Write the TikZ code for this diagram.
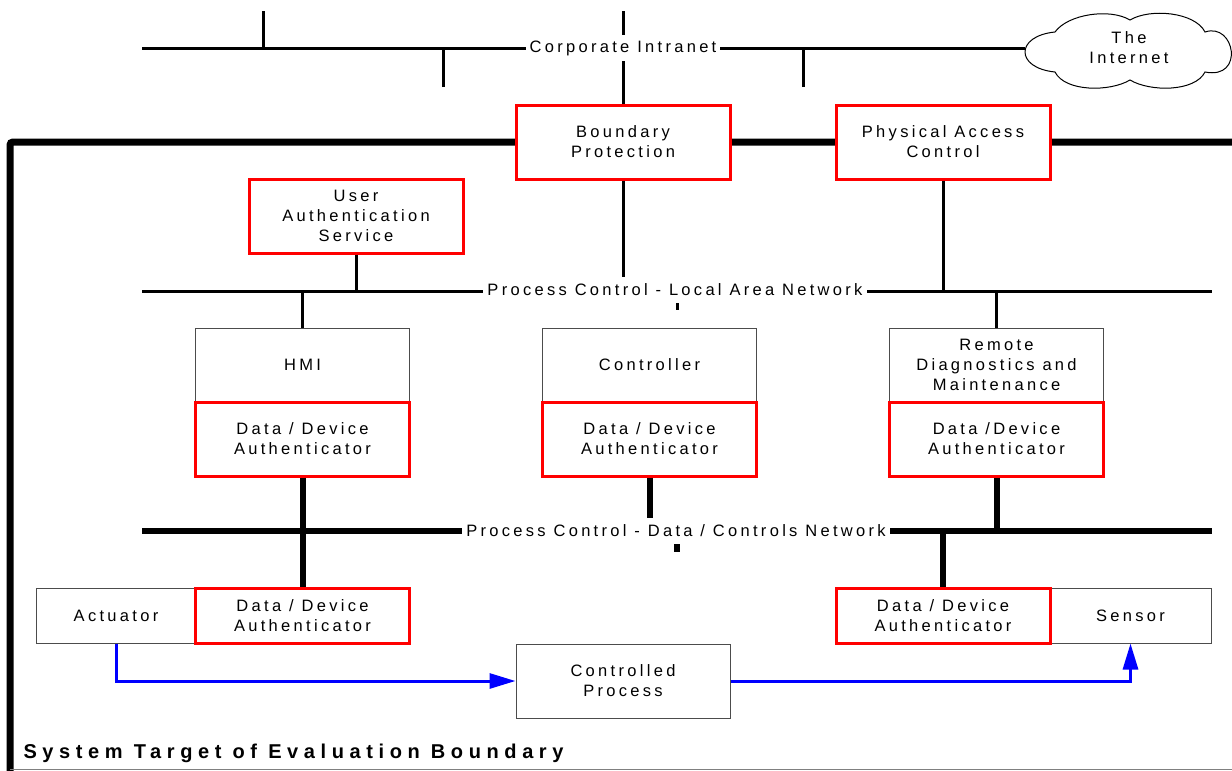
\documentclass[tikz,border=0pt]{standalone}
\usepackage{fontspec}
\setmainfont{Liberation Sans}[LetterSpace=20]
\newfontfamily\toefont{Liberation Sans}[LetterSpace=28]
\usetikzlibrary{arrows.meta}
\tikzstyle{box}=[draw=gray!60!black,line width=1,fill=white,minimum width=214,minimum height=74,inner sep=0mm,align=center,font=\fontsize{16.5}{20}\selectfont]
\tikzstyle{authbox}=[box,draw=red,line width=3]
\tikzstyle{net}=[line width=3]
\tikzstyle{thicknet}=[line width=6]
\tikzstyle{netlabel}=[fill=white,inner sep=4,minimum height=26,font=\fontsize{16.5}{20}\selectfont]
\tikzstyle{flow}=[draw=blue,line width=3,-{Triangle[length=26pt,width=15pt]}]
\begin{document}
\begin{tikzpicture}[x=1pt,y=-1pt]
      \useasboundingbox (0,0) rectangle (1232,771);
      % boundary of the target of evaluation
      \draw[line width=7,rounded corners=3] (1240,142) -- (10,142) -- (10,780);
      \draw[gray,line width=1] (10,769) -- (1240,769);
      \node[anchor=west,font=\toefont\bfseries\fontsize{20}{22}\selectfont] (toe) at (20,753) {System Target of Evaluation Boundary};
      % the internet
      \draw[line width=1,fill=white] (1055,32) .. controls (1068,14) and (1110,8) .. (1130,20)
        .. controls (1150,8) and (1195,12) .. (1205,32)
        .. controls (1235,22) and (1245,80) .. (1205,72)
        .. controls (1195,92) and (1150,92) .. (1130,80)
        .. controls (1110,92) and (1065,92) .. (1055,72)
        .. controls (1015,68) and (1015,36) .. (1055,32) -- cycle;
      \node[align=center,inner sep=0mm,font=\fontsize{16.5}{20}\selectfont] (inet) at (1129,48) {The\\Internet};
      % corporate intranet
      \coordinate (ci1) at (142,48);
      \coordinate (inetW) at (1025,48);
      \coordinate (t1) at (263,11);
      \coordinate (t2) at (443,87);
      \coordinate (t3) at (623,11);
      \coordinate (t4) at (803,87);
      \draw[net] (ci1) -- (inetW);
      \draw[net] (t1) -- (t1 |- ci1);
      \draw[net] (t2) -- (t2 |- ci1);
      \draw[net] (t4) -- (t4 |- ci1);
      % networks
      \coordinate (lanL) at (142,291);
      \coordinate (lanR) at (1212,291);
      \coordinate (lanstub) at (677,310);
      \coordinate (dcnL) at (142,531);
      \coordinate (dcnR) at (1212,531);
      \coordinate (dcnstub) at (677,552);
      \draw[net] (lanL) -- (lanR);
      \draw[thicknet] (dcnL) -- (dcnR);
      % boxes
      \node[authbox] (bp) at (623,142) {Boundary\\Protection};
      \node[authbox] (pac) at (943,142) {Physical Access\\Control};
      \node[authbox] (uas) at (356,216) {User\\Authentication\\Service};
      \node[box] (hmi) at (302.5,365) {HMI};
      \node[box] (ctl) at (649.5,365) {Controller};
      \node[box] (rdm) at (996.5,365) {Remote\\Diagnostics and\\Maintenance};
      \node[authbox] (hmiauth) at (302.5,439) {Data / Device\\Authenticator};
      \node[authbox] (ctlauth) at (649.5,439) {Data / Device\\Authenticator};
      \node[authbox] (rdmauth) at (996.5,439) {Data /Device\\Authenticator};
      \node[box,minimum width=160,minimum height=55] (act) at (116,615.5) {Actuator};
      \node[box,minimum width=161,minimum height=55] (sen) at (1130.5,615.5) {Sensor};
      \node[authbox,minimum height=55] (actauth) at (302.5,615.5) {Data / Device\\Authenticator};
      \node[authbox,minimum height=55] (senauth) at (943,615.5) {Data / Device\\Authenticator};
      \node[box] (cp) at (623,681) {Controlled\\Process};
      % connections
      \draw[net] (t3) -- (bp.north);
      \draw[net] (bp.south) -- (bp.south |- lanL);
      \draw[net] (pac.south) -- (pac.south |- lanL);
      \draw[net] (uas.south) -- (uas.south |- lanL);
      \draw[net] (hmi.north) -- (hmi.north |- lanL);
      \draw[net] (rdm.north) -- (rdm.north |- lanL);
      \draw[net] (lanstub |- lanL) -- (lanstub);
      \draw[thicknet] (hmiauth.south) -- (actauth.north);
      \draw[thicknet] (ctlauth.south) -- (ctlauth.south |- dcnL);
      \draw[thicknet] (rdmauth.south) -- (rdmauth.south |- dcnL);
      \draw[thicknet] (senauth.north) -- (senauth.north |- dcnL);
      \draw[thicknet] (dcnstub |- dcnL) -- (dcnstub);
      \draw[flow] (act.south) |- (cp.west);
      \draw[flow] (cp.east) -| (sen.south);
      % network labels
      \node[netlabel] (cilbl) at (623,48) {Corporate Intranet};
      \node[netlabel] (lanlbl) at (675,290) {Process Control - Local Area Network};
      \node[netlabel] (dcnlbl) at (676,530.5) {Process Control - Data / Controls Network};
    \end{tikzpicture}
\end{document}
